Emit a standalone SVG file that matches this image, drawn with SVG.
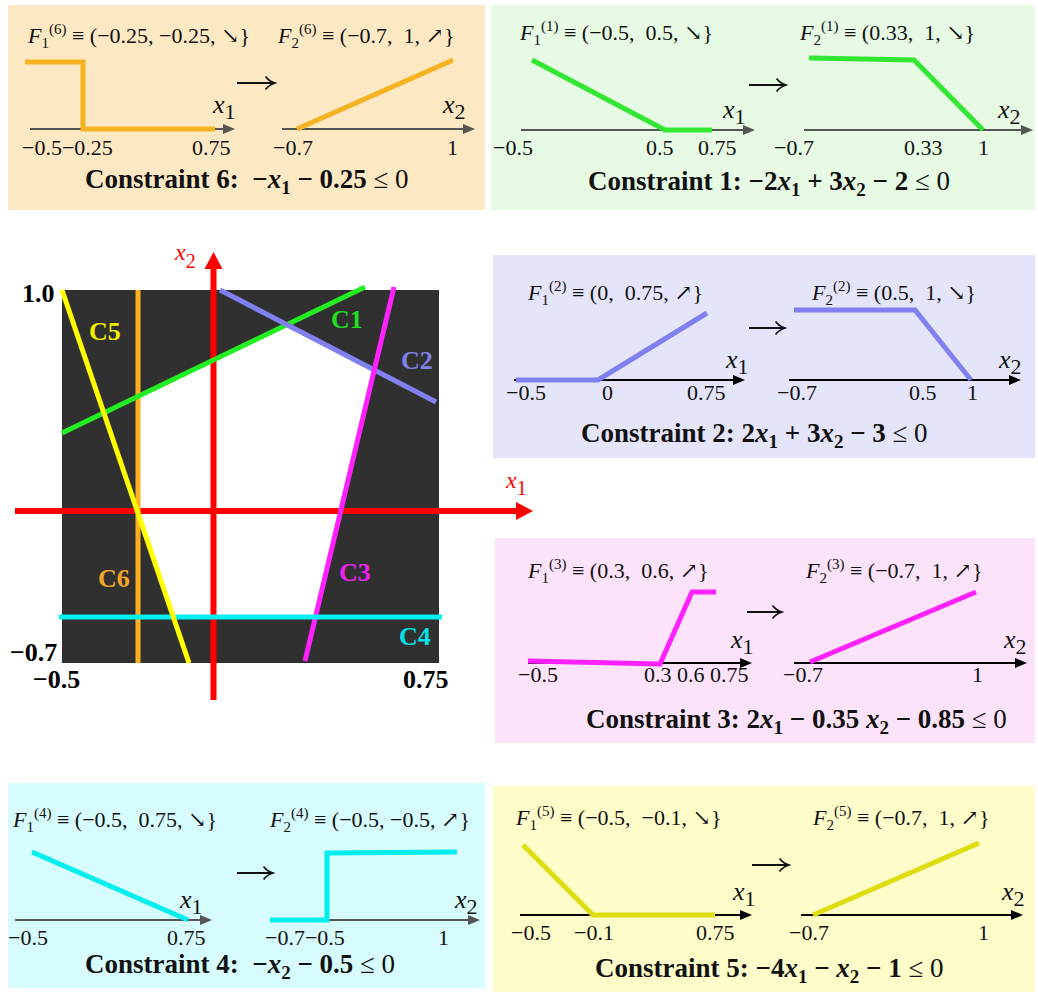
<svg xmlns="http://www.w3.org/2000/svg" width="1038" height="992" viewBox="0 0 1038 992">
<style>
text{font-family:"Liberation Serif","Times New Roman","DejaVu Serif",serif;fill:#111}
.t{font-size:22px}
.i{font-style:italic}
.s{font-size:15px}
.tk{font-size:22px}
.ax{font-size:26px;font-style:italic}
.axs{font-size:22px;font-style:normal}
.c{font-size:27px;font-weight:bold}
.cs{font-size:19px;font-style:normal}
.n{font-weight:normal}
.map{stroke:#111;stroke-width:1.8;marker-end:url(#mo)}
.axg{stroke:#555;stroke-width:2;marker-end:url(#mg)}
.axb{stroke:#000;stroke-width:2;marker-end:url(#mb)}
.cv{fill:none;stroke-width:5}
.ml{fill:none;stroke-width:5}
.lbl{font-size:26px;font-weight:bold}
.bl{font-size:26px;font-weight:bold;fill:#000}
.rax{stroke:#F00;stroke-width:6;marker-end:url(#mr)}
</style>
<defs>
<marker id="mg" viewBox="0 0 12 10" refX="6" refY="5" markerWidth="12" markerHeight="10" markerUnits="userSpaceOnUse" orient="auto"><path d="M0,0 L12,5 L0,10 z" fill="#555"/></marker>
<marker id="mb" viewBox="0 0 12 10" refX="6" refY="5" markerWidth="12" markerHeight="10" markerUnits="userSpaceOnUse" orient="auto"><path d="M0,0 L12,5 L0,10 z" fill="#000"/></marker>
<marker id="mr" viewBox="0 0 17 18" refX="8" refY="9" markerWidth="17" markerHeight="18" markerUnits="userSpaceOnUse" orient="auto"><path d="M0,0 L17,9 L0,18 z" fill="#F00"/></marker>
<marker id="mo" viewBox="0 0 12 16" refX="10.5" refY="8" markerWidth="12" markerHeight="16" markerUnits="userSpaceOnUse" orient="auto"><path d="M1,1.5 Q5,6.5 10.5,8 Q5,9.5 1,14.5" fill="none" stroke="#111" stroke-width="1.7"/></marker>
</defs>
<rect width="1038" height="992" fill="#fff"/>

<!-- Constraint 6 -->
<g id="constraint6">
<rect x="8" y="5" width="477" height="205" fill="#FDE8C4"/>
<text class="t" x="28" y="43"><tspan class="i">F</tspan><tspan class="s" dy="5">1</tspan><tspan class="s" dy="-14">(6)</tspan><tspan dy="9"> ≡ (−0.25, −0.25, ↘}</tspan></text>
<text class="t" x="278" y="43"><tspan class="i">F</tspan><tspan class="s" dy="5">2</tspan><tspan class="s" dy="-14">(6)</tspan><tspan dy="9"> ≡ (−0.7,&#160; 1, ↗}</tspan></text>
<line x1="30" y1="129" x2="229" y2="129" class="axg"/>
<line x1="282" y1="129" x2="469" y2="129" class="axg"/>
<polyline class="cv" stroke="#F5B321" points="25,62 83,62 83,129 215,129"/>
<polyline class="cv" stroke="#F5B321" points="297,129 453,60"/>
<text class="ax" x="213" y="113">x<tspan class="axs" dy="6">1</tspan></text>
<text class="ax" x="443" y="113">x<tspan class="axs" dy="6">2</tspan></text>
<text class="tk" x="22" y="155">−0.5−0.25</text>
<text class="tk" x="192" y="155">0.75</text>
<text class="tk" x="273" y="155">−0.7</text>
<text class="tk" x="447" y="155">1</text>
<text class="c" x="85" y="188">Constraint 6:&#160; −<tspan class="i">x</tspan><tspan class="cs" dy="6">1</tspan><tspan dy="-6"> − 0.25 </tspan><tspan class="n">≤ 0</tspan></text>
</g>

<!-- Constraint 1 -->
<g id="constraint1">
<rect x="491" y="5" width="544" height="205" fill="#E6FAE4"/>
<text class="t" x="520" y="40"><tspan class="i">F</tspan><tspan class="s" dy="5">1</tspan><tspan class="s" dy="-14">(1)</tspan><tspan dy="9"> ≡ (−0.5,&#160; 0.5, ↘}</tspan></text>
<text class="t" x="800" y="40"><tspan class="i">F</tspan><tspan class="s" dy="5">2</tspan><tspan class="s" dy="-14">(1)</tspan><tspan dy="9"> ≡ (0.33,&#160; 1, ↘}</tspan></text>
<line x1="521" y1="130" x2="749" y2="130" class="axg"/>
<line x1="804" y1="130" x2="1027" y2="130" class="axg"/>
<polyline class="cv" stroke="#33E633" points="532,60 665,130 712,130"/>
<polyline class="cv" stroke="#33E633" points="809,58 914,60 983,130"/>
<text class="ax" x="723" y="118">x<tspan class="axs" dy="6">1</tspan></text>
<text class="ax" x="998" y="118">x<tspan class="axs" dy="6">2</tspan></text>
<text class="tk" x="493" y="155">−0.5</text>
<text class="tk" x="646" y="155">0.5</text>
<text class="tk" x="698" y="155">0.75</text>
<text class="tk" x="774" y="155">−0.7</text>
<text class="tk" x="904" y="155">0.33</text>
<text class="tk" x="978" y="155">1</text>
<text class="c" x="588" y="190">Constraint 1: −2<tspan class="i">x</tspan><tspan class="cs" dy="6">1</tspan><tspan dy="-6"> + 3</tspan><tspan class="i">x</tspan><tspan class="cs" dy="6">2</tspan><tspan dy="-6"> − 2 </tspan><tspan class="n">≤ 0</tspan></text>
</g>

<!-- Constraint 2 -->
<g id="constraint2">
<rect x="493" y="255" width="542" height="203" fill="#E4E4FA"/>
<text class="t" x="528" y="300"><tspan class="i">F</tspan><tspan class="s" dy="5">1</tspan><tspan class="s" dy="-14">(2)</tspan><tspan dy="9"> ≡ (0,&#160; 0.75, ↗}</tspan></text>
<text class="t" x="812" y="300"><tspan class="i">F</tspan><tspan class="s" dy="5">2</tspan><tspan class="s" dy="-14">(2)</tspan><tspan dy="9"> ≡ (0.5,&#160; 1, ↘}</tspan></text>
<line x1="514" y1="380" x2="739" y2="380" class="axb"/>
<line x1="789" y1="380" x2="1015" y2="380" class="axb"/>
<polyline class="cv" stroke="#8080F0" points="516,380 598,380 707,313"/>
<polyline class="cv" stroke="#8080F0" points="794,310 915,310 971,380"/>
<text class="ax" x="726" y="368">x<tspan class="axs" dy="6">1</tspan></text>
<text class="ax" x="999" y="368">x<tspan class="axs" dy="6">2</tspan></text>
<text class="tk" x="506" y="400">−0.5</text>
<text class="tk" x="602" y="400">0</text>
<text class="tk" x="687" y="400">0.75</text>
<text class="tk" x="777" y="400">−0.7</text>
<text class="tk" x="909" y="400">0.5</text>
<text class="tk" x="967" y="400">1</text>
<text class="c" x="581" y="442">Constraint 2: 2<tspan class="i">x</tspan><tspan class="cs" dy="6">1</tspan><tspan dy="-6"> + 3</tspan><tspan class="i">x</tspan><tspan class="cs" dy="6">2</tspan><tspan dy="-6"> − 3 </tspan><tspan class="n">≤ 0</tspan></text>
</g>

<!-- Constraint 3 -->
<g id="constraint3">
<rect x="495" y="538" width="540" height="205" fill="#FCE3FA"/>
<text class="t" x="528" y="578"><tspan class="i">F</tspan><tspan class="s" dy="5">1</tspan><tspan class="s" dy="-14">(3)</tspan><tspan dy="9"> ≡ (0.3,&#160; 0.6, ↗}</tspan></text>
<text class="t" x="806" y="578"><tspan class="i">F</tspan><tspan class="s" dy="5">2</tspan><tspan class="s" dy="-14">(3)</tspan><tspan dy="9"> ≡ (−0.7,&#160; 1, ↗}</tspan></text>
<line x1="528" y1="663" x2="746" y2="663" class="axb"/>
<line x1="794" y1="663" x2="1021" y2="663" class="axb"/>
<polyline class="cv" stroke="#FF22FF" points="528,661 660,664 692,592 716,592"/>
<polyline class="cv" stroke="#FF22FF" points="810,662 976,592"/>
<text class="ax" x="731" y="648">x<tspan class="axs" dy="6">1</tspan></text>
<text class="ax" x="1004" y="648">x<tspan class="axs" dy="6">2</tspan></text>
<text class="tk" x="518" y="682">−0.5</text>
<text class="tk" x="644" y="682">0.3 0.6 0.75</text>
<text class="tk" x="783" y="682">−0.7</text>
<text class="tk" x="972" y="682">1</text>
<text class="c" x="586" y="728">Constraint 3: 2<tspan class="i">x</tspan><tspan class="cs" dy="6">1</tspan><tspan dy="-6"> − 0.35 </tspan><tspan class="i">x</tspan><tspan class="cs" dy="6">2</tspan><tspan dy="-6"> − 0.85 </tspan><tspan class="n">≤ 0</tspan></text>
</g>

<!-- Constraint 4 -->
<g id="constraint4">
<rect x="8" y="783" width="477" height="205" fill="#D6FCFD"/>
<text class="t" x="13" y="827"><tspan class="i">F</tspan><tspan class="s" dy="5">1</tspan><tspan class="s" dy="-14">(4)</tspan><tspan dy="9"> ≡ (−0.5,&#160; 0.75, ↘}</tspan></text>
<text class="t" x="270" y="827"><tspan class="i">F</tspan><tspan class="s" dy="5">2</tspan><tspan class="s" dy="-14">(4)</tspan><tspan dy="9"> ≡ (−0.5, −0.5, ↗}</tspan></text>
<line x1="15" y1="920" x2="206" y2="920" class="axg"/>
<line x1="270" y1="920" x2="474" y2="920" class="axg"/>
<polyline class="cv" stroke="#00EEEE" points="32,852 188,920"/>
<polyline class="cv" stroke="#00EEEE" points="270,920 327,920 327,853 457,852"/>
<text class="ax" x="180" y="908">x<tspan class="axs" dy="6">1</tspan></text>
<text class="ax" x="455" y="908">x<tspan class="axs" dy="6">2</tspan></text>
<text class="tk" x="8" y="945">−0.5</text>
<text class="tk" x="167" y="945">0.75</text>
<text class="tk" x="265" y="945">−0.7−0.5</text>
<text class="tk" x="438" y="945">1</text>
<text class="c" x="85" y="973">Constraint 4:&#160; −<tspan class="i">x</tspan><tspan class="cs" dy="6">2</tspan><tspan dy="-6"> − 0.5 </tspan><tspan class="n">≤ 0</tspan></text>
</g>

<!-- Constraint 5 -->
<g id="constraint5">
<rect x="493" y="786" width="542" height="206" fill="#FEFDCA"/>
<text class="t" x="516" y="825"><tspan class="i">F</tspan><tspan class="s" dy="5">1</tspan><tspan class="s" dy="-14">(5)</tspan><tspan dy="9"> ≡ (−0.5,&#160; −0.1, ↘}</tspan></text>
<text class="t" x="813" y="825"><tspan class="i">F</tspan><tspan class="s" dy="5">2</tspan><tspan class="s" dy="-14">(5)</tspan><tspan dy="9"> ≡ (−0.7,&#160; 1, ↗}</tspan></text>
<line x1="520" y1="915" x2="746" y2="915" class="axb"/>
<line x1="801" y1="915" x2="1017" y2="915" class="axb"/>
<polyline class="cv" stroke="#DDDD11" points="523,845 593,915 715,915"/>
<polyline class="cv" stroke="#DDDD11" points="813,915 979,843"/>
<text class="ax" x="733" y="900">x<tspan class="axs" dy="6">1</tspan></text>
<text class="ax" x="1002" y="900">x<tspan class="axs" dy="6">2</tspan></text>
<text class="tk" x="511" y="940">−0.5</text>
<text class="tk" x="574" y="940">−0.1</text>
<text class="tk" x="696" y="940">0.75</text>
<text class="tk" x="789" y="940">−0.7</text>
<text class="tk" x="978" y="940">1</text>
<text class="c" x="595" y="977">Constraint 5: −4<tspan class="i">x</tspan><tspan class="cs" dy="6">1</tspan><tspan dy="-6"> − </tspan><tspan class="i">x</tspan><tspan class="cs" dy="6">2</tspan><tspan dy="-6"> − 1 </tspan><tspan class="n">≤ 0</tspan></text>
</g>

<!-- Mapping arrows F1 -> F2 -->
<g id="connectors">
<line class="map" x1="237" y1="83" x2="275" y2="83"/>
<line class="map" x1="749" y1="85" x2="786" y2="85"/>
<line class="map" x1="749" y1="328" x2="785" y2="328"/>
<line class="map" x1="747" y1="612" x2="782" y2="612"/>
<line class="map" x1="237" y1="873" x2="273" y2="873"/>
<line class="map" x1="752" y1="865" x2="789" y2="865"/>
</g>

<!-- Feasible region plot -->
<g id="plot">
<rect x="62" y="290" width="377" height="373" fill="#303030"/>
<polygon points="138,396.4 286.9,324.7 374.3,370 315.5,617 173.3,617 138,513.2" fill="#fff"/>
<line x1="213.5" y1="700" x2="213.5" y2="261" class="rax"/>
<line x1="15" y1="511" x2="524" y2="511" class="rax"/>
<text x="175" y="260" style="fill:#F00;font-size:24px;font-style:italic">x<tspan dy="8" style="font-size:20px;font-style:normal">2</tspan></text>
<text x="506" y="488" style="fill:#F00;font-size:24px;font-style:italic">x<tspan dy="7" style="font-size:20px;font-style:normal">1</tspan></text>
<line class="ml" stroke="#FFB020" x1="138" y1="290" x2="138" y2="663"/>
<line class="ml" stroke="#22EE22" x1="62" y1="433" x2="365" y2="287"/>
<line class="ml" stroke="#8080F0" x1="220" y1="290" x2="436" y2="402"/>
<line class="ml" stroke="#FF22FF" x1="394" y1="287" x2="305" y2="661"/>
<line class="ml" stroke="#00F0F0" x1="59" y1="617" x2="442" y2="617"/>
<line class="ml" stroke="#FFFF00" x1="62" y1="290" x2="189" y2="663"/>
<text class="lbl" x="89" y="340" style="fill:#F0F000">C5</text>
<text class="lbl" x="331" y="328" style="fill:#22DD22">C1</text>
<text class="lbl" x="401" y="369" style="fill:#8080E8">C2</text>
<text class="lbl" x="339" y="581" style="fill:#EE22EE">C3</text>
<text class="lbl" x="98" y="587" style="fill:#F5A623">C6</text>
<text class="lbl" x="399" y="645" style="fill:#00E0E8">C4</text>
<text class="bl" x="22" y="302">1.0</text>
<text class="bl" x="10" y="661">−0.7</text>
<text class="bl" x="33" y="688">−0.5</text>
<text class="bl" x="403" y="688">0.75</text>
</g>
</svg>
